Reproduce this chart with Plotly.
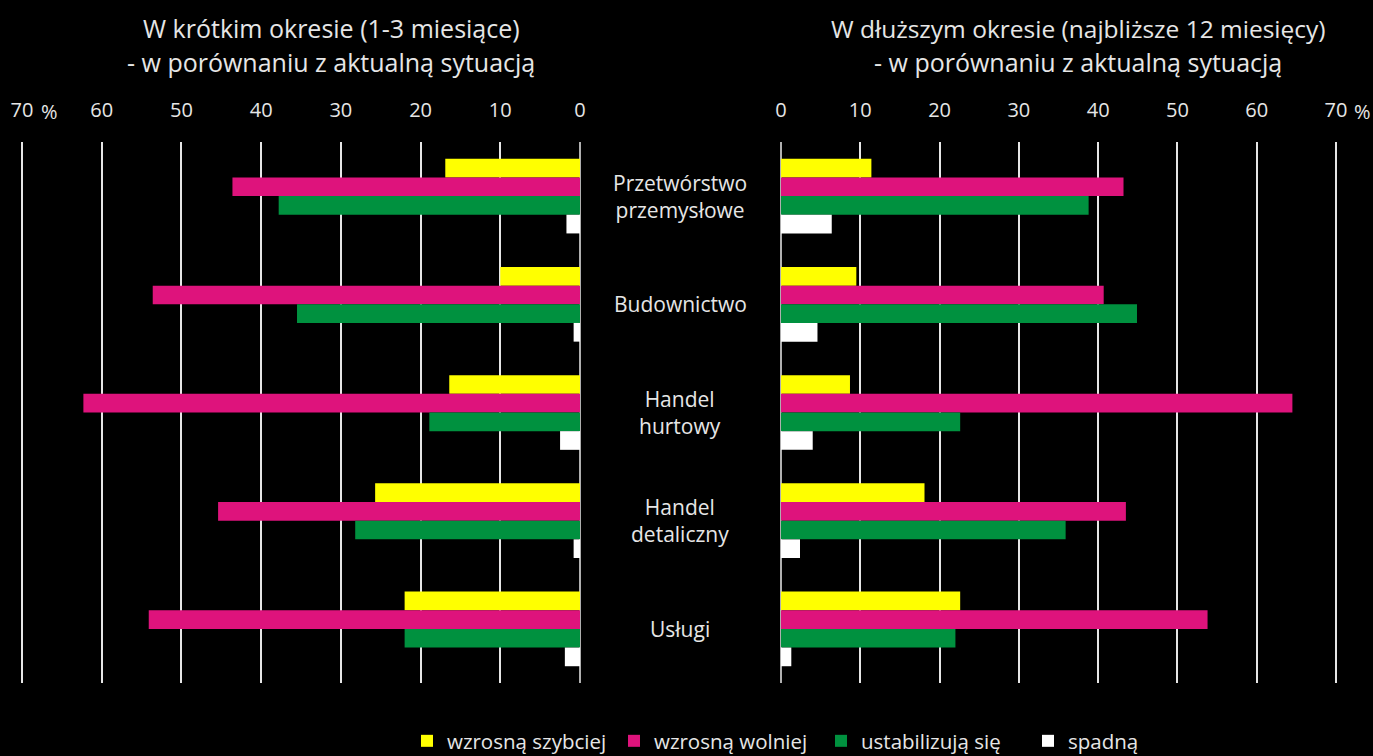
import plotly.graph_objects as go

categories = ["Przetwórstwo<br>przemysłowe", "Budownictwo", "Handel<br>hurtowy", "Handel<br>detaliczny", "Usługi"]
series_names = ["wzrosną szybciej", "wzrosną wolniej", "ustabilizują się", "spadną"]
colors = ["#FFFF00", "#DE137C", "#00913F", "#FFFFFF"]

# Short term (1-3 months)
short_faster = [16.9, 10.0, 16.4, 25.7, 22.0]
short_slower = [43.6, 53.6, 62.3, 45.4, 54.1]
short_stable = [37.8, 35.5, 18.9, 28.2, 22.0]
short_down = [1.7, 0.8, 2.5, 0.8, 1.9]

# Longer term (next 12 months)
long_faster = [11.4, 9.5, 8.7, 18.1, 22.6]
long_slower = [43.2, 40.7, 64.5, 43.5, 53.8]
long_stable = [38.8, 44.9, 22.6, 35.9, 22.0]
long_down = [6.4, 4.6, 4.0, 2.4, 1.3]

tick_vals = [0, 10, 20, 30, 40, 50, 60, 70]
tick_text = ["0", "10", "20", "30", "40", "50", "60", "70"]

short_series = [short_faster, short_slower, short_stable, short_down]
long_series = [long_faster, long_slower, long_stable, long_down]

FONT = "Open Sans"
TXT = "#E6E6E6"
W, H = 1373, 756
MT, MB = 142, 73
PH = H - MT - MB
PAD = 0.5  # axis padding (data units) so the 0 and 70 gridlines are drawn


def py(p):
    """pixel row -> paper y"""
    return (H - MB - p) / PH


# left axis: 70 at px 22, 0 at px 580 ; right axis: 0 at px 781, 70 at px 1336
lu = (580 - 22) / 70
ru = (1336 - 781) / 70

fig = go.Figure()
for name, vals, col in zip(series_names, short_series, colors):
    fig.add_trace(go.Bar(y=categories, x=vals, orientation="h", name=name,
                         marker=dict(color=col, line=dict(width=0)),
                         xaxis="x", yaxis="y", legendgroup=name, showlegend=True))
for name, vals, col in zip(series_names, long_series, colors):
    fig.add_trace(go.Bar(y=categories, x=vals, orientation="h", name=name,
                         marker=dict(color=col, line=dict(width=0)),
                         xaxis="x2", yaxis="y2", legendgroup=name, showlegend=False))

axis_common = dict(tickvals=tick_vals, ticktext=tick_text, side="top",
                   showgrid=True, gridcolor="#E6E6E6", gridwidth=2,
                   zeroline=True, zerolinecolor="#B0B0B0", zerolinewidth=2,
                   showline=False, ticks="", ticklabelstandoff=20,
                   tickfont=dict(family=FONT, size=20, color=TXT))

fig.update_layout(
    width=W, height=H,
    paper_bgcolor="#000000", plot_bgcolor="#000000",
    margin=dict(l=0, r=0, t=MT, b=MB, autoexpand=False),
    barmode="group", bargap=0.31, bargroupgap=0,
    xaxis=dict(domain=[(22 - PAD * lu) / W, (580 + PAD * lu) / W], range=[70 + PAD, -PAD],
               anchor="y", **axis_common),
    xaxis2=dict(domain=[(781 - PAD * ru) / W, (1336 + PAD * ru) / W], range=[-PAD, 70 + PAD],
                anchor="y2", **axis_common),
    yaxis=dict(autorange="reversed", showticklabels=False, showgrid=False, zeroline=False, anchor="x"),
    yaxis2=dict(autorange="reversed", showticklabels=False, showgrid=False, zeroline=False,
                anchor="x2", matches="y"),
    showlegend=True,
    legend=dict(orientation="h", xref="container", yref="container",
                x=407 / W, xanchor="left", y=(H - 741) / H, yanchor="middle",
                font=dict(family=FONT, size=20.5, color=TXT),
                itemsizing="constant", bgcolor="rgba(0,0,0,0)", traceorder="normal",
                itemwidth=30, entrywidth=162),
    font=dict(family=FONT, color=TXT),
)

annotations = []
for cat in categories:
    annotations.append(dict(x=680 / W, xref="paper", y=cat, yref="y", text=cat,
                            showarrow=False, xanchor="center", yanchor="middle",
                            font=dict(family=FONT, size=21, color=TXT)))
title_lines = [
    (331, 28, "W krótkim okresie (1-3 miesiące)", 25),
    (331, 62, "- w porównaniu z aktualną sytuacją", 25),
    (1078, 28, "W dłuższym okresie (najbliższe 12 miesięcy)", 24.5),
    (1078, 62, "- w porównaniu z aktualną sytuacją", 25),
]
for x, y, t, s in title_lines:
    annotations.append(dict(x=x / W, xref="paper", y=py(y), yref="paper", yanchor="middle",
                            xanchor="center", text=t, showarrow=False,
                            font=dict(family=FONT, size=s, color=TXT)))
for x in (49, 1362):
    annotations.append(dict(x=x / W, xref="paper", y=py(112), yref="paper", yanchor="middle",
                            xanchor="center", text="%", showarrow=False,
                            font=dict(family=FONT, size=20, color=TXT)))
fig.update_layout(annotations=annotations)

fig.write_html("out.html", config={"displayModeBar": False},
               post_script="document.body.style.margin='0';document.body.style.background='#000';")
